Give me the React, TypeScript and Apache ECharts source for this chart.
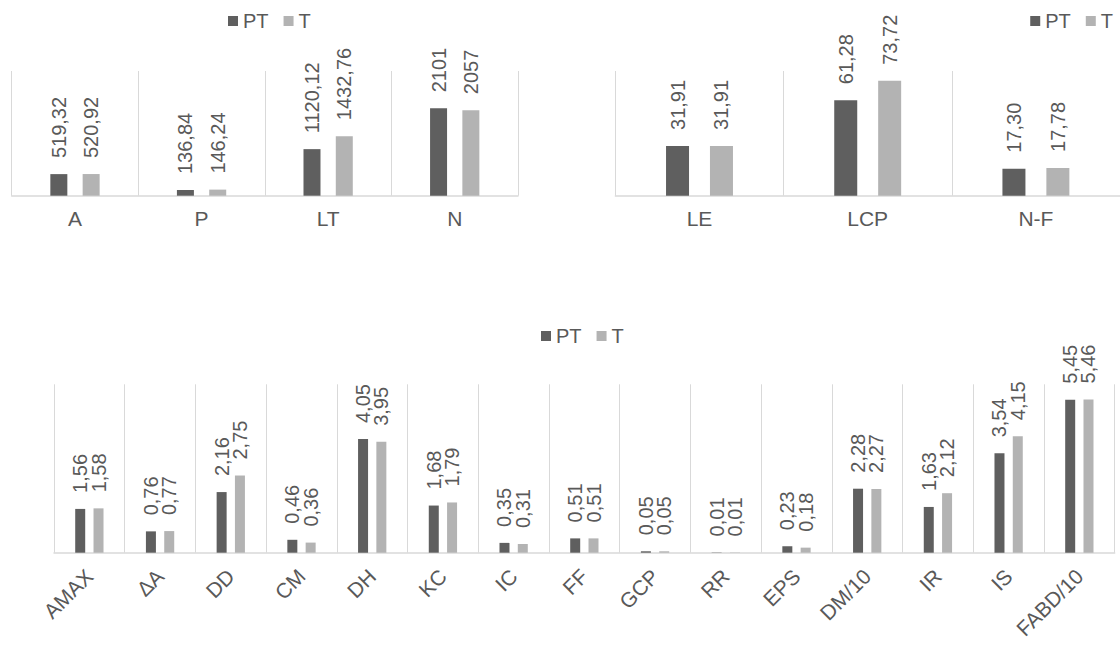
import React, { useEffect, useRef } from "react";
import * as echarts from "echarts";

const topLeftCategories = ["A", "P", "LT", "N"];
const topLeftPT = [519.32, 136.84, 1120.12, 2101];
const topLeftT = [520.92, 146.24, 1432.76, 2057];

const topRightCategories = ["LE", "LCP", "N-F"];
const topRightPT = [31.91, 61.28, 17.3];
const topRightT = [31.91, 73.72, 17.78];

const bottomCategories = ["AMAX", "ΔA", "DD", "CM", "DH", "KC", "IC", "FF", "GCP", "RR", "EPS", "DM/10", "IR", "IS", "FABD/10"];
const bottomPT = [1.56, 0.76, 2.16, 0.46, 4.05, 1.68, 0.35, 0.51, 0.05, 0.01, 0.23, 2.28, 1.63, 3.54, 5.45];
const bottomT = [1.58, 0.77, 2.75, 0.36, 3.95, 1.79, 0.31, 0.51, 0.05, 0.01, 0.18, 2.27, 2.12, 4.15, 5.46];

const seriesNames = ["PT", "T"];

const FONT = "'Liberation Sans', Arial, sans-serif";
const TEXT = "#595959";
const DARK = "#5f5f5f";
const LIGHT = "#b3b3b3";
const GRIDLINE = "#d9d9d9";

const fmt = (v: number) => (Number.isInteger(v) ? String(v) : v.toFixed(2).replace(".", ","));

export default function App() {
  const ref = useRef<HTMLDivElement>(null);
  useEffect(() => {
    if (!ref.current) return;
    const chart = echarts.init(ref.current, undefined, { renderer: "svg" });

    const label = {
      show: true,
      position: "top",
      rotate: 90,
      align: "left",
      verticalAlign: "middle",
      distance: 16,
      fontSize: 20,
      color: TEXT,
      fontFamily: FONT,
      formatter: (p: any) => fmt(p.value),
    };

    const xAxisBase = (gridIndex: number, data: string[], rotate: number, margin: number) => ({
      type: "category",
      gridIndex,
      data,
      axisLine: { show: true, lineStyle: { color: GRIDLINE, width: 1.5 } },
      axisTick: { show: false },
      splitLine: { show: true, lineStyle: { color: GRIDLINE, width: 1 } },
      axisLabel: {
        color: TEXT,
        fontSize: 21,
        fontFamily: FONT,
        rotate,
        margin,
        interval: 0,
      },
    });

    const yAxisBase = (gridIndex: number, max: number) => ({
      type: "value",
      gridIndex,
      min: 0,
      max,
      show: false,
      splitLine: { show: false },
    });

    const legendBase = (pos: any) => ({
      data: seriesNames,
      ...pos,
      orient: "horizontal",
      padding: 0,
      icon: "rect",
      itemWidth: 10,
      itemHeight: 10,
      itemGap: 15,
      textStyle: { color: TEXT, fontSize: 20, fontFamily: FONT },
    });

    const barSeries = (name: string, data: number[], idx: number, color: string, barWidth: number, barGap: string) => ({
      name,
      type: "bar",
      xAxisIndex: idx,
      yAxisIndex: idx,
      data,
      barWidth,
      barGap,
      itemStyle: { color },
      label,
    });

    chart.setOption({
      animation: false,
      textStyle: { fontFamily: FONT },
      legend: [
        legendBase({ left: 228, top: 11 }),
        legendBase({ right: 7, top: 11 }),
        legendBase({ left: 541, top: 326 }),
      ],
      grid: [
        { left: 11.7, right: 602, top: 71, bottom: 459.3 },
        { left: 615.4, right: -4.6, top: 71, bottom: 459.3 },
        { left: 54, right: 5.3, top: 384.3, bottom: 102.3 },
      ],
      xAxis: [
        xAxisBase(0, topLeftCategories, 0, 12),
        xAxisBase(1, topRightCategories, 0, 12),
        xAxisBase(2, bottomCategories, 45, 20),
      ],
      yAxis: [yAxisBase(0, 3000), yAxisBase(1, 80), yAxisBase(2, 6)],
      series: [
        barSeries("PT", topLeftPT, 0, DARK, 17, "90%"),
        barSeries("T", topLeftT, 0, LIGHT, 17, "90%"),
        barSeries("PT", topRightPT, 1, DARK, 23, "91%"),
        barSeries("T", topRightT, 1, LIGHT, 23, "91%"),
        barSeries("PT", bottomPT, 2, DARK, 10, "83%"),
        barSeries("T", bottomT, 2, LIGHT, 10, "83%"),
      ],
    });
    return () => chart.dispose();
  }, []);

  return (
    <div
      ref={ref}
      style={{ position: "fixed", left: 0, top: 0, width: 1120, height: 655, background: "#fff" }}
    />
  );
}
